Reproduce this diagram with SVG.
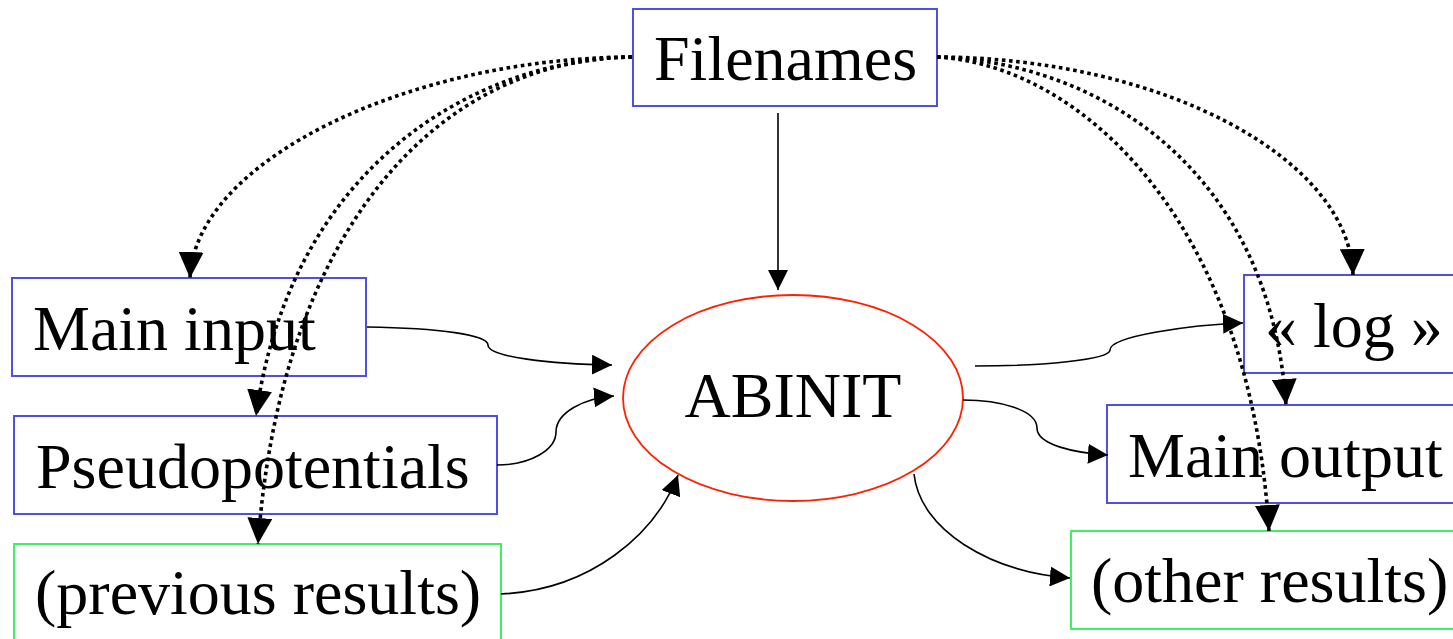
<svg xmlns="http://www.w3.org/2000/svg" width="1453" height="639" viewBox="0 0 1453 639">
<style>
.box{fill:#fff;stroke:#5050e0;stroke-width:2}
.gbox{fill:#fff;stroke:#40f060;stroke-width:2}
.ell{fill:#fff;stroke:#ff2000;stroke-width:1.8}
.t{font-family:"Liberation Serif","Times New Roman",serif;font-size:64px;fill:#000}
.s{fill:none;stroke:#000;stroke-width:1.6}
.d{fill:none;stroke:#000;stroke-width:3.6;stroke-dasharray:3.6 3.6}
</style>
<defs>
<marker id="a" markerUnits="userSpaceOnUse" markerWidth="20" markerHeight="20" refX="20" refY="10" orient="auto" viewBox="0 0 20 20">
<path d="M0,0 L20,10 L0,20 z" fill="#000"/>
</marker>
<marker id="b" markerUnits="userSpaceOnUse" markerWidth="26" markerHeight="25" refX="26" refY="12.5" orient="auto" viewBox="0 0 26 25">
<path d="M0,0 L26,12.5 L0,25 z" fill="#000"/>
</marker>
</defs>
<rect width="1453" height="639" fill="#fff"/>
<g id="node-filenames">
<rect class="box" x="633" y="9" width="304" height="97"/>
<text class="t" x="654" y="80">Filenames</text>
</g>
<g id="node-maininput">
<rect class="box" x="12" y="278" width="354" height="98"/>
<text class="t" x="33" y="350">Main input</text>
</g>
<g id="node-pseudo">
<rect class="box" x="14" y="416" width="483" height="98"/>
<text class="t" x="36" y="488">Pseudopotentials</text>
</g>
<g id="node-previous">
<rect class="gbox" x="14" y="544" width="487" height="100"/>
<text class="t" x="35" y="614">(previous results)</text>
</g>
<g id="node-abinit">
<ellipse class="ell" cx="793" cy="398" rx="170" ry="103"/>
<text class="t" x="793" y="417" text-anchor="middle">ABINIT</text>
</g>
<g id="node-log">
<rect class="box" x="1244" y="275" width="215" height="98"/>
<text class="t" x="1265" y="347">« log »</text>
</g>
<g id="node-mainoutput">
<rect class="box" x="1107" y="405" width="352" height="98"/>
<text class="t" x="1128" y="477">Main output</text>
</g>
<g id="node-other">
<rect class="gbox" x="1071" y="531" width="388" height="98"/>
<text class="t" x="1091" y="602">(other results)</text>
</g>
<g id="connectors">
<path class="s" d="M778,113 L778,290" marker-end="url(#a)"/>
<path class="s" d="M367,327 C440,328 488,335 488,345 C488,357 550,364 612,365" marker-end="url(#a)"/>
<path class="s" d="M497,465 C530,465 556,450 556,432 C556,412 585,398 614,396" marker-end="url(#a)"/>
<path class="s" d="M501,594 C590,590 655,535 678,475" marker-end="url(#a)"/>
<path class="s" d="M975,366 C1040,366 1110,360 1110,350 C1110,336 1190,325 1243,323" marker-end="url(#a)"/>
<path class="s" d="M963,400 C1000,400 1037,410 1037,428 C1037,445 1075,453 1108,455" marker-end="url(#a)"/>
<path class="s" d="M914,474 C920,530 990,572 1070,578" marker-end="url(#a)"/>
<path class="d" d="M632,57 C410,58 195,160 190,278" marker-end="url(#b)"/>
<path class="d" d="M632,57 C470,60 290,170 256,416" marker-end="url(#b)"/>
<path class="d" d="M632,57 C430,60 280,240 258,544" marker-end="url(#b)"/>
<path class="d" d="M937,57 C1165,58 1350,160 1353,275" marker-end="url(#b)"/>
<path class="d" d="M937,57 C1100,62 1270,170 1286,405" marker-end="url(#b)"/>
<path class="d" d="M937,57 C1080,65 1250,220 1269,531" marker-end="url(#b)"/>
</g>
</svg>
